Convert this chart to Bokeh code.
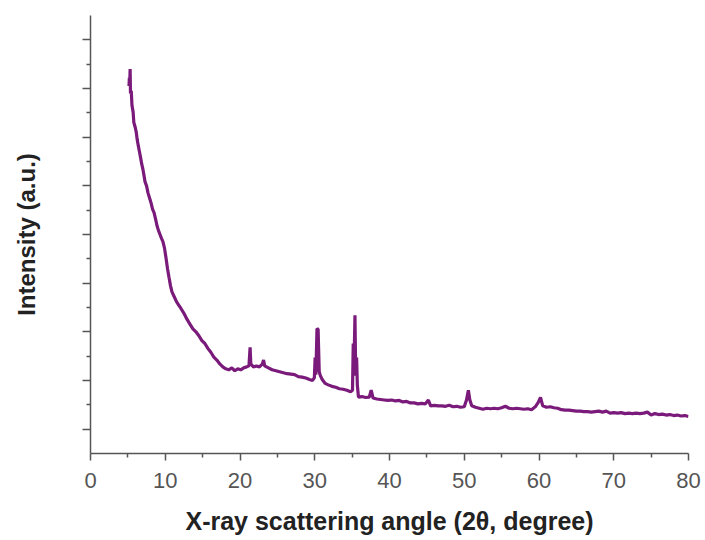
from bokeh.plotting import figure
from bokeh.models import FixedTicker, Range1d, ColumnDataSource
from bokeh.embed import file_html
from bokeh.resources import INLINE

# 2-theta (degree) and intensity (a.u.)
two_theta = [5.15, 5.2, 5.25, 5.3, 5.35, 5.45, 5.55, 5.7, 5.8, 5.95, 6.1, 6.25, 6.4, 6.55, 6.7, 6.85,
             7.0, 7.15, 7.3, 7.5, 7.7, 7.9, 8.1, 8.3, 8.5, 8.7, 8.9, 9.1, 9.3, 9.5, 9.7, 9.9,
             10.1, 10.3, 10.5, 10.7, 10.9, 11.2, 11.5, 11.8, 12.1, 12.5, 12.9, 13.3, 13.7, 14.1,
             14.5, 14.9, 15.3, 15.7, 16.1, 16.5, 16.9, 17.3, 17.7, 18.1, 18.5, 18.9, 19.3, 19.7,
             20.1, 20.5, 20.9, 21.2, 21.35, 21.45, 21.8, 22.2, 22.6, 23.0, 23.15, 23.3, 23.8,
             24.3, 24.8, 25.3, 25.8, 26.3, 26.8, 27.3, 27.8, 28.3, 28.8, 29.3, 29.7, 29.95,
             30.05, 30.15, 30.3, 30.45, 30.6, 30.75, 31.0, 31.4, 31.8, 32.3, 32.8, 33.3, 33.8,
             34.3, 34.8, 35.05, 35.15, 35.3, 35.38, 35.48, 35.6, 35.7, 35.85, 36.3, 36.8, 37.3,
             37.55, 37.8, 38.3, 38.8, 39.3, 39.8, 40.3, 40.8, 41.3, 41.8, 42.3, 42.8, 43.3, 43.8,
             44.3, 44.8, 45.2, 45.5, 46.0, 46.5, 47.0, 47.5, 48.0, 48.5, 49.0, 49.5, 50.0, 50.3,
             50.55, 50.75, 51.0, 51.5, 52.0, 52.5, 53.0, 53.5, 54.0, 54.5, 55.0, 55.5, 56.0,
             56.5, 57.0, 57.5, 58.0, 58.5, 59.0, 59.5, 59.9, 60.2, 60.5, 61.0, 61.5, 62.0, 62.5,
             63.0, 63.5, 64.0, 64.5, 65.0, 65.5, 66.0, 66.5, 67.0, 67.5, 68.0, 68.5, 69.0, 69.5,
             70.0, 70.5, 71.0, 71.5, 72.0, 72.5, 73.0, 73.5, 74.0, 74.5, 75.0, 75.5, 76.0, 76.5,
             77.0, 77.5, 78.0, 78.5, 79.0, 79.5, 80.0]
intensity = [7.55, 7.72, 7.60, 7.90, 7.40, 7.45, 7.15, 7.02, 6.80, 6.72, 6.62, 6.45, 6.32, 6.20, 6.08, 5.95,
             5.85, 5.72, 5.58, 5.50, 5.35, 5.25, 5.15, 5.02, 4.95, 4.82, 4.68, 4.58, 4.50, 4.42, 4.35, 4.22,
             4.02, 3.80, 3.62, 3.45, 3.32, 3.22, 3.12, 3.05, 2.98, 2.88, 2.76, 2.66, 2.56, 2.50,
             2.42, 2.32, 2.26, 2.16, 2.08, 1.98, 1.92, 1.84, 1.78, 1.74, 1.72, 1.76, 1.70, 1.74,
             1.72, 1.76, 1.78, 1.80, 2.18, 1.84, 1.78, 1.80, 1.78, 1.84, 1.92, 1.80, 1.76,
             1.72, 1.70, 1.68, 1.66, 1.64, 1.63, 1.62, 1.58, 1.57, 1.55, 1.52, 1.50, 1.56,
             1.97, 1.62, 2.57, 2.55, 1.68, 1.60, 1.52, 1.44, 1.41, 1.38, 1.36, 1.33, 1.32,
             1.30, 1.27, 1.30, 2.26, 2.20, 2.84, 1.60, 1.97, 1.40, 1.16, 1.17, 1.15, 1.16,
             1.30, 1.14, 1.12, 1.11, 1.10, 1.09, 1.10, 1.08, 1.09, 1.06, 1.07, 1.04, 1.04, 1.02,
             1.03, 1.02, 1.10, 0.98, 0.99, 0.98, 0.98, 0.97, 0.99, 0.96, 0.97, 0.95, 0.96, 1.10,
             1.30, 1.10, 0.98, 0.95, 0.93, 0.91, 0.93, 0.92, 0.93, 0.92, 0.94, 0.97, 0.93,
             0.92, 0.93, 0.92, 0.91, 0.92, 0.90, 0.96, 1.05, 1.15, 0.98, 0.95, 0.96, 0.94, 0.93,
             0.90, 0.89, 0.89, 0.88, 0.87, 0.87, 0.86, 0.86, 0.85, 0.86, 0.87, 0.85, 0.87, 0.83,
             0.84, 0.83, 0.84, 0.82, 0.83, 0.82, 0.83, 0.82, 0.83, 0.85, 0.79, 0.82, 0.80, 0.81,
             0.79, 0.80, 0.78, 0.79, 0.77, 0.78, 0.76]

x_ticks = [0, 10, 20, 30, 40, 50, 60, 70, 80]
x_minor = [5, 15, 25, 35, 45, 55, 65, 75]
y_ticks = [0.5, 1.5, 2.5, 3.5, 4.5, 5.5, 6.5, 7.5, 8.5]
y_minor = [1, 2, 3, 4, 5, 6, 7, 8]

src = ColumnDataSource(dict(x=two_theta, y=intensity))

p = figure(width=705, height=540, output_backend="svg", toolbar_location=None,
           x_range=Range1d(0, 80), y_range=Range1d(0, 9),
           min_border_left=90, min_border_right=17, min_border_top=15, min_border_bottom=87)
p.outline_line_color = None
p.grid.visible = False

p.line("x", "y", source=src, line_color="#7a1a7a", line_width=3.2)

axis_col = "#555555"
p.xaxis.ticker = FixedTicker(ticks=x_ticks, minor_ticks=x_minor)
p.yaxis.ticker = FixedTicker(ticks=y_ticks, minor_ticks=y_minor)
for ax in (p.xaxis[0], p.yaxis[0]):
    ax.axis_line_color = axis_col
    ax.axis_line_width = 1.5
    ax.major_tick_line_color = axis_col
    ax.minor_tick_line_color = axis_col
    ax.major_tick_line_width = 1.5
    ax.minor_tick_line_width = 1.5
    ax.major_tick_in = 0
    ax.minor_tick_in = 0
    ax.axis_label_text_font = "Liberation Sans"
    ax.axis_label_text_font_style = "bold"
    ax.axis_label_text_color = "#222222"

p.xaxis.axis_label_text_font_size = "25px"
p.yaxis.axis_label_text_font_size = "24px"

p.xaxis.major_tick_out = 7
p.xaxis.minor_tick_out = 4
p.yaxis.major_tick_out = 8
p.yaxis.minor_tick_out = 4

p.xaxis.major_label_text_font = "Liberation Sans"
p.xaxis.major_label_text_font_size = "22px"
p.xaxis.major_label_text_color = "#555555"
p.xaxis.major_label_standoff = 12
p.xaxis.axis_label = "X-ray scattering angle (2θ, degree)"
p.xaxis.axis_label_standoff = 16

p.yaxis.major_label_overrides = {t: "" for t in y_ticks}
p.yaxis.major_label_text_font_size = "1px"
p.yaxis.axis_label = "Intensity (a.u.)"
p.yaxis.axis_label_standoff = 43

open("out.html", "w").write(file_html(p, INLINE))
